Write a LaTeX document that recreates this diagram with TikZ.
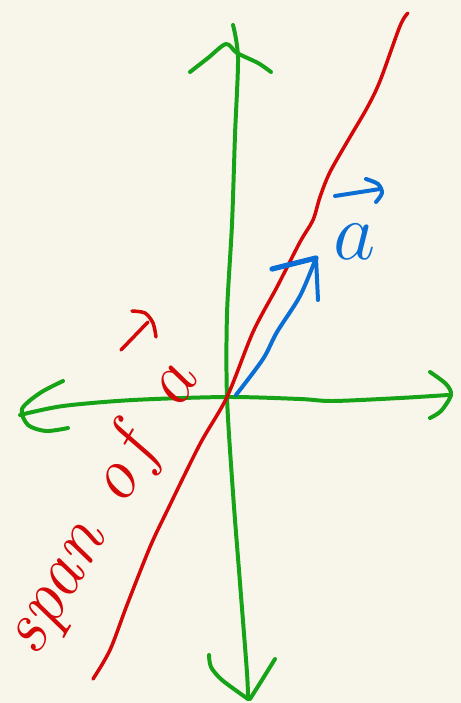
\documentclass[tikz,border=0pt]{standalone}
\usepackage{fix-cm}
\definecolor{paper}{HTML}{F8F6EA}
\definecolor{axisgreen}{HTML}{17A317}
\definecolor{spanred}{HTML}{D40808}
\definecolor{vecblue}{HTML}{0A6ED4}
\begin{document}
\begin{tikzpicture}[x=0.03cm, y=-0.03cm, line width=3.4pt, line cap=round, line join=round,
  axis/.style={draw=axisgreen},
  spanline/.style={draw=spanred, line width=3pt},
  vecline/.style={draw=vecblue},
  hand/.style={font=\fontsize{70}{80}\selectfont, inner sep=0pt}]
  \fill[paper] (0,0) rectangle (461,703);
  \useasboundingbox (0,0) rectangle (461,703);
  \coordinate (O) at (227,397);
  \coordinate (a0) at (236,395);
  \coordinate (a1) at (316,258);
  % axes
  \draw[axis] plot[smooth] coordinates {(233,25) (238,58) (235,135) (232,224) (227,314) (O) (233,493) (240,583) (247,673) (248,699)};
  \draw[axis] plot[smooth] coordinates {(190,72) (208,58) (226,44) (237,53) (258,63) (271,72)};
  \draw[axis] plot[smooth] coordinates {(209,655) (211,667) (222,680) (248,699)};
  \draw[axis] plot[smooth] coordinates {(275,659) (262,680) (250,699)};
  \draw[axis] plot[smooth] coordinates {(20,415) (63,406) (133,400) (O) (300,399) (333,401) (400,398) (448,395)};
  \draw[axis] plot[smooth] coordinates {(63,381) (40,393) (22,409) (28,425) (46,431) (68,428)};
  \draw[axis] plot[smooth] coordinates {(430,372) (446,384) (451,395) (441,411) (430,418)};
  % span of a
  \draw[spanline] plot[smooth] coordinates {(93,679) (110,650) (127,605) (150,547) (167,511) (200,444) (O) (253,332) (277,287) (300,242) (313,220) (320,197) (330,172) (350,137) (367,108) (380,81) (400,26) (408,13)};
  \node[hand, font=\fontsize{63}{70}\selectfont, text=spanred, anchor=base west, rotate=60] (spanlabel) at (36,660)
    {\itshape span\hspace{0.45em}o\kern0.12em f\hspace{0.64em}$a$};
  \draw[spanline] (121,350) -- (148,322);
  \draw[spanline] plot[smooth] coordinates {(132,311) (145,313) (153,323) (156,337)};
  % vector a
  \draw[vecline] plot[smooth] coordinates {(a0) (263,359) (277,332) (300,296) (a1)};
  \draw[vecline, line width=4.5pt] (272,269) -- (a1);
  \draw[vecline] (a1) -- (318,300);
  \node[hand, text=vecblue, anchor=base] (veclabel) at (355,259) {$a$};
  \draw[vecline] (335,196) -- (380,189);
  \draw[vecline] plot[smooth] coordinates {(366,179) (378,184) (382,193) (376,202)};
\end{tikzpicture}
\end{document}
